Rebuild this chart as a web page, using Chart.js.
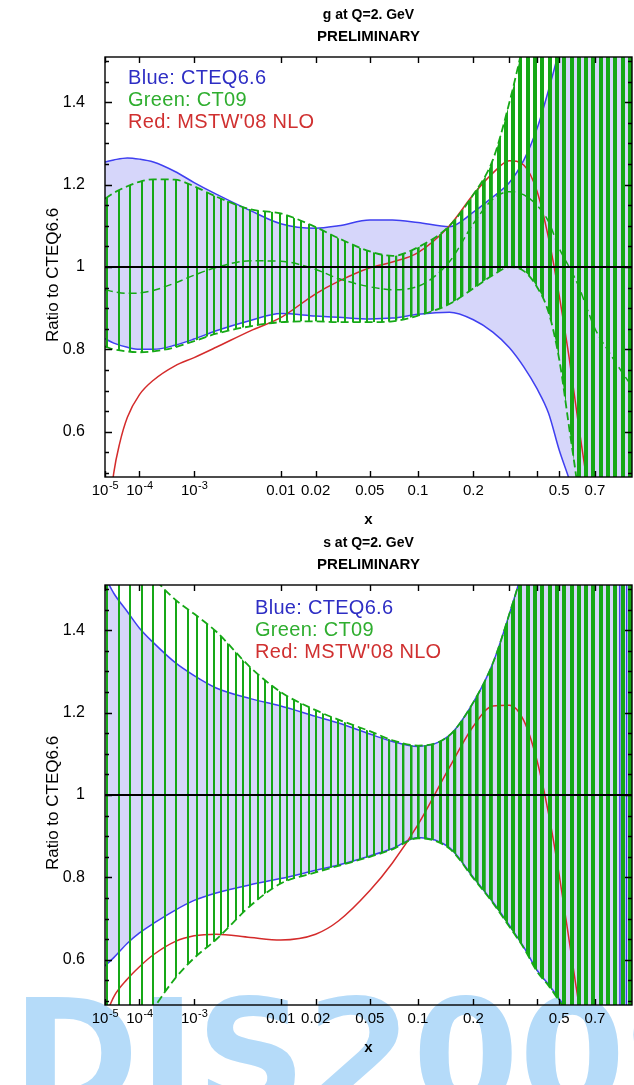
<!DOCTYPE html>
<html>
<head>
<meta charset="utf-8">
<script src="https://cdn.jsdelivr.net/npm/chart.js@4.4.0/dist/chart.umd.min.js"></script>
<style>
  body { margin: 0; background: #fff; width: 634px; height: 1085px; overflow: hidden; position: relative; }
  #logo { position: absolute; left: 12px; top: 980px; font: bold 153px "DejaVu Sans"; color: #b5dbf9; line-height: 1; white-space: nowrap; }
  .box { position: absolute; left: 0; width: 634px; height: 530px; }
</style>
</head>
<body>
<div id="logo">DIS2009</div>
<div class="box" style="top:0"><canvas id="gChart"></canvas></div>
<div class="box" style="top:528px"><canvas id="sChart"></canvas></div>
<script>
const BLUE = '#3f3ff0';
const LAVENDER = '#d6d6fa';
const GREEN = '#16a816';
const RED = '#d42b2b';
const FONT = '"Liberation Sans"';

// x axis is linear in x^(1/5)
const u = x => Math.pow(x, 0.2);

const xTicks = [1e-5, 1e-4, 1e-3, 0.01, 0.02, 0.05, 0.1, 0.2, 0.3, 0.4, 0.5, 0.7];
const xTickLabels = ['', '', '', '0.01', '0.02', '0.05', '0.1', '0.2', '', '', '0.5', '0.7'];
const xPowerTicks = [[1e-5, '-5'], [1e-4, '-4'], [1e-3, '-3']];
const yTicks = [0.6, 0.8, 1, 1.2, 1.4];

// common x grid for the error bands
const xGrid = [1e-5, 2e-5, 5e-5, 1e-4, 2e-4, 5e-4, 1e-3, 2e-3, 5e-3, 0.01, 0.02, 0.03, 0.05, 0.07, 0.1,
               0.15, 0.2, 0.25, 0.3, 0.35, 0.4, 0.45, 0.5, 0.55, 0.6, 0.65, 0.7, 0.8, 0.9, 0.97];

// gluon
const gBlueUp  = [1.255, 1.26, 1.265, 1.262, 1.255, 1.232, 1.205, 1.177, 1.137, 1.105, 1.094, 1.1, 1.114, 1.114, 1.108,
                  1.098, 1.133, 1.17, 1.205, 1.26, 1.335, 1.43, 1.53, 1.65, 1.8, 1.95, 2.1, 2.4, 2.7, 3.0];
const gBlueLow = [0.826, 0.815, 0.805, 0.8, 0.8, 0.81, 0.825, 0.845, 0.87, 0.887, 0.881, 0.878, 0.874, 0.876, 0.885,
                  0.89, 0.872, 0.842, 0.804, 0.757, 0.705, 0.645, 0.555, 0.485, 0.41, 0.33, 0.25, 0.1, -0.1, -0.3];
const gGreenUp  = [1.166, 1.18, 1.196, 1.207, 1.213, 1.212, 1.196, 1.171, 1.14, 1.13, 1.097, 1.07, 1.038, 1.027, 1.048,
                   1.1, 1.176, 1.26, 1.4, 1.55, 1.7, 1.85, 2.0, 2.2, 2.4, 2.6, 2.8, 3.0, 3.3, 3.5];
const gGreenLow = [0.807, 0.8, 0.795, 0.793, 0.795, 0.805, 0.82, 0.838, 0.856, 0.866, 0.868, 0.866, 0.866, 0.868, 0.882,
                   0.91, 0.948, 0.98, 1.0, 0.99, 0.952, 0.89, 0.775, 0.61, 0.45, 0.25, 0.1, -0.2, -0.5, -0.8];
const gGreenMid = [0.945, 0.94, 0.936, 0.937, 0.943, 0.961, 0.98, 0.999, 1.015, 1.014, 0.994, 0.972, 0.952, 0.945, 0.953,
                   1.013, 1.105, 1.165, 1.183, 1.175, 1.15, 1.11, 1.045, 1.0, 0.955, 0.9, 0.85, 0.79, 0.74, 0.71];
const gRedX = [1e-5, 1.5e-5, 2e-5, 3e-5, 5e-5, 1e-4, 2e-4, 5e-4, 1e-3, 2e-3, 5e-3, 0.01, 0.02, 0.03, 0.05, 0.07, 0.1,
               0.15, 0.2, 0.25, 0.3, 0.35, 0.4, 0.45, 0.5, 0.55, 0.6, 0.65];
const gRed  = [0.3, 0.42, 0.5, 0.57, 0.635, 0.69, 0.725, 0.76, 0.78, 0.805, 0.845, 0.877, 0.935, 0.965, 0.998, 1.012, 1.035,
               1.1, 1.176, 1.228, 1.258, 1.247, 1.185, 1.07, 0.93, 0.78, 0.62, 0.48];

// strange quark; CTEQ6.6 band has its own grid to follow the turn-over near x = 0.9
const sBlueX = [1e-5, 2e-5, 5e-5, 1e-4, 2e-4, 5e-4, 1e-3, 2e-3, 5e-3, 0.01, 0.02, 0.03, 0.05, 0.07, 0.1,
                0.15, 0.2, 0.25, 0.3, 0.35, 0.4, 0.45, 0.5, 0.55, 0.6, 0.65, 0.7, 0.8, 0.86, 0.87, 0.88,
                0.9, 0.92, 0.93, 0.97];
const sBlueUp  = [1.53, 1.49, 1.445, 1.405, 1.37, 1.322, 1.29, 1.26, 1.234, 1.216, 1.191, 1.175, 1.148, 1.13, 1.118,
                  1.145, 1.225, 1.32, 1.44, 1.56, 1.7, 1.85, 2.0, 2.2, 2.4, 2.6, 2.8, 3.0, 3.3, 3.5, -3,
                  -3, -3, -3, -3];
const sBlueLow = [0.585, 0.605, 0.64, 0.665, 0.688, 0.72, 0.744, 0.762, 0.782, 0.797, 0.817, 0.83, 0.852, 0.87, 0.897,
                  0.872, 0.8, 0.74, 0.683, 0.63, 0.575, 0.54, 0.505, 0.47, 0.43, 0.38, 0.3, 0.1, -0.3, -0.4, -0.5,
                  -0.7, -0.9, 3, 3];
const sGreenUp  = [1.75, 1.7, 1.63, 1.58, 1.53, 1.475, 1.44, 1.397, 1.31, 1.25, 1.206, 1.183, 1.155, 1.133, 1.12,
                   1.145, 1.225, 1.32, 1.44, 1.56, 1.7, 1.85, 2.0, 2.2, 2.4, 2.6, 2.8, 3.0, 3.2, 3.4];
const sGreenLow = [0.3, 0.33, 0.38, 0.42, 0.48, 0.554, 0.604, 0.649, 0.731, 0.785, 0.812, 0.828, 0.85, 0.868, 0.895,
                   0.87, 0.798, 0.738, 0.68, 0.628, 0.572, 0.537, 0.5, 0.465, 0.42, 0.37, 0.3, 0.1, -0.2, -0.5];
const sRedX = [1e-5, 2e-5, 5e-5, 1e-4, 2e-4, 5e-4, 1e-3, 2e-3, 5e-3, 0.01, 0.02, 0.03, 0.05, 0.07, 0.1,
               0.15, 0.2, 0.25, 0.3, 0.35, 0.4, 0.45, 0.5, 0.55, 0.6, 0.65];
const sRed  = [0.46, 0.51, 0.553, 0.583, 0.612, 0.644, 0.658, 0.662, 0.654, 0.648, 0.662, 0.694, 0.768, 0.835, 0.928,
               1.067, 1.167, 1.216, 1.218, 1.18, 1.085, 0.955, 0.805, 0.647, 0.5, 0.38];

function pts(xs, ys) {
  return xs.map((x, i) => ({ x: u(x), y: ys[i] }));
}

// vertical green hatching used to fill the CT09 band
function hatch(chart) {
  const a = chart.chartArea;
  if (!a) return 'rgba(0,0,0,0)';
  const key = a.left + ':' + a.right + ':' + chart.height;
  if (chart.$hatch && chart.$hatch.key === key) return chart.$hatch.pat;
  const c = document.createElement('canvas');
  c.width = chart.width;
  c.height = chart.height;
  const g = c.getContext('2d');
  g.fillStyle = GREEN;
  let px = a.left + 2;
  while (px < a.right + 4) {
    const w = px < 380 ? 2 : Math.min(4, 2 + (px - 380) / 60);
    g.fillRect(Math.round(px - w / 2), 0, w, c.height);
    px += px < 182 ? 11.5 : px < 200 ? 9.5 : 7.3;
  }
  const pat = chart.ctx.createPattern(c, 'no-repeat');
  chart.$hatch = { key, pat };
  return pat;
}

const panel = {
  id: 'panel',
  afterDatasetsDraw(chart) {
    const { ctx, chartArea: a, scales: { x, y } } = chart;
    ctx.save();
    ctx.strokeStyle = '#000';
    ctx.lineWidth = 1.4;
    ctx.strokeRect(a.left, a.top, a.right - a.left, a.bottom - a.top);
    ctx.beginPath();
    xTicks.forEach(v => {
      const p = Math.round(x.getPixelForValue(u(v))) + 0.5;
      ctx.moveTo(p, a.bottom); ctx.lineTo(p, a.bottom - 6);
      ctx.moveTo(p, a.top); ctx.lineTo(p, a.top + 6);
    });
    for (let k = 0; k <= 20; k++) {
      const p = Math.round(y.getPixelForValue(0.5 + k * 0.05)) + 0.5;
      const len = k % 4 === 2 ? 7 : 4;
      ctx.moveTo(a.left, p); ctx.lineTo(a.left + len, p);
      ctx.moveTo(a.right, p); ctx.lineTo(a.right - len, p);
    }
    ctx.stroke();
    ctx.restore();
  },
  afterDraw(chart, args, o) {
    const { ctx, chartArea: a, scales: { x } } = chart;
    const cx = (a.left + a.right) / 2;
    ctx.save();
    ctx.fillStyle = '#000';
    ctx.textBaseline = 'middle';

    // 10^-n labels with a raised exponent
    xPowerTicks.forEach(([v, e]) => {
      const p = x.getPixelForValue(u(v));
      ctx.font = '15px ' + FONT;
      const wb = ctx.measureText('10').width;
      ctx.font = '11px ' + FONT;
      const we = ctx.measureText(e).width;
      const x0 = p - (wb + we) / 2;
      ctx.textAlign = 'left';
      ctx.font = '15px ' + FONT;
      ctx.fillText('10', x0, a.bottom + 14);
      ctx.font = '11px ' + FONT;
      ctx.fillText(e, x0 + wb + 0.5, a.bottom + 9);
    });

    ctx.textAlign = 'center';
    ctx.font = 'bold 14px ' + FONT;
    ctx.fillText(o.title, cx, 15);
    ctx.font = 'bold 15px ' + FONT;
    ctx.fillText('PRELIMINARY', cx, 37);
    ctx.fillText('x', cx, a.bottom + 43);
    ctx.save();
    ctx.translate(53, (a.top + a.bottom) / 2 + 8);
    ctx.rotate(-Math.PI / 2);
    ctx.font = '17px ' + FONT;
    ctx.fillText('Ratio to CTEQ6.6', 0, 0);
    ctx.restore();

    ctx.textAlign = 'left';
    ctx.font = '20px ' + FONT;
    ctx.letterSpacing = '0.3px';
    [['Blue: CTEQ6.6', '#2e2ec4'], ['Green: CT09', '#2fae2f'], ["Red: MSTW'08 NLO", '#d03030']].forEach(([t, c], i) => {
      ctx.fillStyle = c;
      ctx.fillText(t, o.legendX, o.legendY + i * 22);
    });
    ctx.restore();
  }
};

function makeChart(id, title, legendX, legendY, d) {
  const line = (label, data, color, order, extra) => Object.assign({
    label, data, borderColor: color, borderWidth: 1.5, pointRadius: 0, fill: false, order,
    cubicInterpolationMode: 'monotone'
  }, extra || {});
  return new Chart(document.getElementById(id), {
    type: 'line',
    data: {
      datasets: [
        line('CTEQ6.6 upper', pts(d.blueX, d.blueUp), BLUE, 10, { fill: '+1', backgroundColor: LAVENDER }),
        line('CTEQ6.6 lower', pts(d.blueX, d.blueLow), BLUE, 9),
        line("MSTW'08 NLO", pts(d.redX, d.red), RED, 8),
        line('CT09 central', d.greenMid ? pts(xGrid, d.greenMid) : [], GREEN, 7, { borderDash: [8, 4] }),
        line('CT09 upper', pts(xGrid, d.greenUp), GREEN, 6,
             { borderDash: [8, 4], borderWidth: 1.8, fill: '+1', backgroundColor: ctx => hatch(ctx.chart) }),
        line('CT09 lower', pts(xGrid, d.greenLow), GREEN, 5, { borderDash: [8, 4], borderWidth: 1.8 }),
        line('CTEQ6.6', [{ x: u(1e-5), y: 1 }, { x: u(0.97), y: 1 }], '#000', 0, { borderWidth: 2 })
      ]
    },
    options: {
      responsive: true,
      maintainAspectRatio: false,
      animation: false,
      layout: { padding: { top: 57, right: 2, left: 0, bottom: 0 } },
      plugins: {
        legend: { display: false },
        tooltip: { enabled: false },
        panel: { title, legendX, legendY }
      },
      scales: {
        x: {
          type: 'linear',
          min: u(1e-5),
          max: u(0.97),
          grid: { display: false, drawTicks: false },
          border: { display: false },
          afterBuildTicks: s => { s.ticks = xTicks.map(v => ({ value: u(v) })); },
          afterFit: s => { s.height = 53; },
          ticks: {
            autoSkip: false, maxRotation: 0, padding: 5, color: '#000',
            font: { family: FONT, size: 15 },
            callback: (v, i) => xTickLabels[i]
          }
        },
        y: {
          min: 0.49,
          max: 1.51,
          grid: { display: false, drawTicks: false },
          border: { display: false },
          afterBuildTicks: s => { s.ticks = yTicks.map(v => ({ value: v })); },
          afterFit: s => { s.width = 105; },
          ticks: {
            padding: 20, color: '#000',
            font: { family: FONT, size: 16 },
            callback: v => (v === 1 ? '1' : v.toFixed(1))
          }
        }
      }
    },
    plugins: [panel]
  });
}

makeChart('gChart', 'g at Q=2. GeV', 128, 78, {
  blueX: xGrid, blueUp: gBlueUp, blueLow: gBlueLow,
  greenUp: gGreenUp, greenLow: gGreenLow, greenMid: gGreenMid,
  redX: gRedX, red: gRed
});
makeChart('sChart', 's at Q=2. GeV', 255, 80, {
  blueX: sBlueX, blueUp: sBlueUp, blueLow: sBlueLow,
  greenUp: sGreenUp, greenLow: sGreenLow,
  redX: sRedX, red: sRed
});
</script>
</body>
</html>
